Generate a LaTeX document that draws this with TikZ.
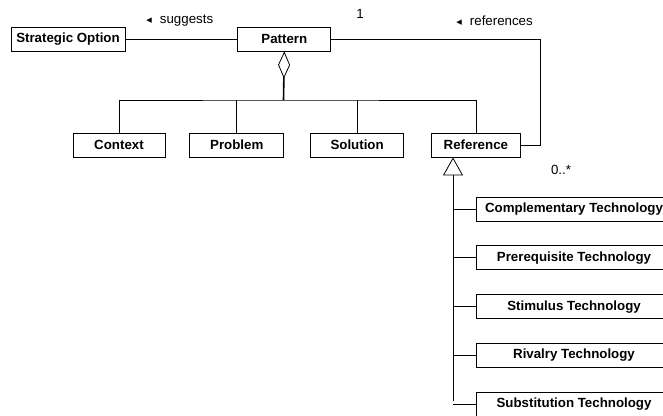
\documentclass[tikz,border=0pt]{standalone}
\usepackage{fontspec}
\setmainfont{Liberation Sans}
\newfontfamily\symfont{DejaVu Sans}
\usetikzlibrary{arrows.meta,positioning}

\begin{document}
\begin{tikzpicture}[x=1pt,y=-1pt,line width=.8pt,
    font=\fontsize{13.3}{16}\selectfont,
    box/.style={draw,minimum height=24pt,inner sep=2pt,
                font=\fontsize{13.3}{16}\selectfont\bfseries},
    sub/.style={box,minimum width=196pt},
    role/.style={inner sep=0pt,anchor=west}]
  \useasboundingbox (0,0) rectangle (663,415);
  \clip (0,0) rectangle (663,415);
  \node[box,minimum width=114pt] (so) at (68,39) {Strategic Option};
  \node[box,minimum width=93pt,right=112pt of so] (pat) {Pattern};
  \node[box,minimum width=92pt] (ctx) at (119,145) {Context};
  \node[box,minimum width=94pt,right=24pt of ctx] (prob) {Problem};
  \node[box,minimum width=93pt,right=26pt of prob] (sol) {Solution};
  \node[box,minimum width=89pt,right=27pt of sol] (ref) {Reference};
  \node[sub] (comp) at (574,209) {Complementary Technology};
  \node[sub,below=24pt of comp] (prereq) {Prerequisite Technology};
  \node[sub,below=24pt of prereq] (stim) {Stimulus Technology};
  \node[sub,below=24pt of stim] (riv) {Rivalry Technology};
  \node[sub,below=24pt of riv] (subst) {Substitution Technology};
  \coordinate (bar) at (283.5,100);
  \coordinate (bend) at (540,39);
  \coordinate (trunk) at (453,401);
  \draw (so) -- (pat);
  \draw (pat.east) -- (bend) |- (ref.east);
  \draw[line width=1.6pt,{Diamond[open,length=27pt,width=12pt,line width=.8pt]}-] (pat.south) -- (bar);
  \draw (ctx.north) |- (bar) -| (ref.north);
  \draw (prob.north) -- (prob.north |- bar);
  \draw (sol.north) -- (sol.north |- bar);
  \draw[{Triangle[open,length=18pt,width=20pt]}-] (ref.south -| trunk) -- (trunk);
  \foreach \n in {comp,prereq,stim,riv,subst}
    \draw (trunk |- \n.west) -- (\n.west);
  \node[role] (sugg) at (146,21) {{\symfont\fontsize{11}{11}\selectfont ◂}\hspace{8pt}suggests};
  \node[role] (refs) at (456,21) {{\symfont\fontsize{11}{11}\selectfont ◂}\hspace{8pt}references};
  \node (one) at (360,14) {1};
  \node (many) at (561,170) {0..*};
\end{tikzpicture}
\end{document}
